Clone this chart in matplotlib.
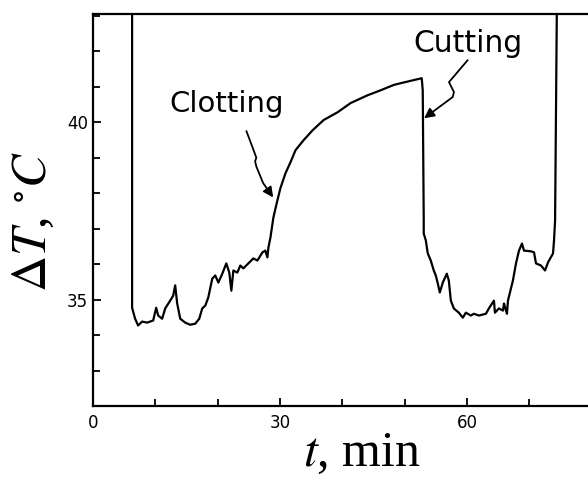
import matplotlib
matplotlib.use("Agg")
import matplotlib.pyplot as plt
from matplotlib.patches import FancyArrowPatch
from matplotlib.path import Path
from matplotlib.ticker import MultipleLocator

# 读取的曲线数据 (t, min ; ΔT, °C)
t_min = [6.27, 6.27, 6.27, 6.75, 7.23, 7.88, 8.68, 9.65, 10.13, 10.45, 11.09,
         11.58, 12.38, 12.86, 13.18, 13.50, 13.99, 14.79, 15.59, 16.40, 17.04,
         17.52, 18.01, 18.49, 19.13, 19.61, 20.10, 20.74, 21.38, 21.86, 22.19,
         22.51, 23.15, 23.63, 24.12, 24.92, 25.72, 26.37, 27.17, 27.65, 27.97,
         28.14, 28.46, 28.94, 29.58, 30.06, 30.87, 31.67, 32.48, 33.76, 35.21,
         36.98, 39.23, 41.32, 44.05, 46.14, 48.23, 49.36, 52.73, 52.89, 53.05,
         53.05, 53.38, 53.70, 54.18, 54.66, 54.98, 55.31, 55.63, 56.11, 56.75,
         57.07, 57.40, 57.88, 58.68, 59.32, 59.81, 60.61, 61.09, 61.90, 63.02,
         63.50, 64.31, 64.47, 65.11, 65.76, 65.92, 66.40, 66.56, 67.36, 67.85,
         68.33, 68.81, 69.13, 70.26, 70.74, 71.06, 71.86, 72.51, 72.99, 73.79,
         73.95, 74.12, 74.44]
dT = [44.0, 36.67, 34.77, 34.46, 34.27, 34.38, 34.35, 34.41, 34.77, 34.55, 34.46,
      34.75, 34.97, 35.11, 35.40, 34.89, 34.46, 34.35, 34.29, 34.32, 34.46,
      34.75, 34.83, 35.06, 35.59, 35.68, 35.48, 35.73, 36.02, 35.76, 35.25,
      35.82, 35.76, 35.96, 35.88, 36.02, 36.16, 36.10, 36.33, 36.38, 36.19,
      36.47, 36.75, 37.32, 37.80, 38.14, 38.56, 38.87, 39.21, 39.49, 39.77,
      40.06, 40.28, 40.54, 40.76, 40.90, 41.05, 41.10, 41.24, 40.90, 37.23,
      36.86, 36.67, 36.30, 36.10, 35.82, 35.68, 35.45, 35.20, 35.48, 35.73,
      35.54, 34.97, 34.75, 34.63, 34.49, 34.63, 34.55, 34.60, 34.55, 34.60,
      34.75, 34.97, 34.63, 34.75, 34.69, 34.89, 34.60, 34.97, 35.54, 36.02,
      36.38, 36.58, 36.38, 36.36, 36.33, 36.02, 35.96, 35.82, 36.05, 36.30,
      36.67, 37.23, 44.0]

x_ticks = [0, 30, 60]
y_ticks = [35, 40]

# 注释文字与箭头
clot_label = "Clotting"
clot_text_pos = (21.5, 40.5)
clot_arrow = [(24.6, 39.75), (25.4, 39.38), (26.2, 39.0), (26.0, 38.9),
              (26.2, 38.75), (27.3, 38.28), (28.9, 37.88)]
cut_label = "Cutting"
cut_text_pos = (60.2, 42.23)
cut_arrow = [(60.1, 41.75), (57.1, 41.13), (57.9, 40.85), (57.7, 40.71),
             (53.1, 40.11)]

plt.rcParams['mathtext.fontset'] = 'stix'

fig = plt.figure(figsize=(5.88, 4.8), dpi=100)
ax = fig.add_axes([0.1582, 0.1542, 0.8418, 0.8166])

ax.plot(t_min, dT, color='black', lw=1.6, solid_joinstyle='round')

ax.set_xlim(0, 79.4)
ax.set_ylim(32.0, 43.05)

ax.xaxis.set_minor_locator(MultipleLocator(10))
ax.yaxis.set_minor_locator(MultipleLocator(1))
ax.set_xticks(x_ticks)
ax.set_yticks(y_ticks)
ax.tick_params(which='both', direction='in', width=1.3, labelsize=12,
               top=False, right=False)
ax.tick_params(which='major', length=6)
ax.tick_params(which='minor', length=5)
ax.tick_params(axis='x', pad=5.5)

ax.spines['right'].set_visible(False)
for s in ['left', 'bottom', 'top']:
    ax.spines[s].set_linewidth(1.6)

ax.set_xlabel(r"$t$, min", family='Liberation Serif', fontsize=36)
ax.set_ylabel(r"$\Delta T$, $^{\circ}C$", family='Liberation Serif', fontsize=36)
ax.xaxis.set_label_coords(0.543, -0.063)
ax.yaxis.set_label_coords(-0.072, 0.469)

ax.text(*clot_text_pos, clot_label, fontsize=21, ha='center', va='center')
ax.text(*cut_text_pos, cut_label, fontsize=21.5, ha='center', va='center')

for pts in (clot_arrow, cut_arrow):
    codes = [Path.MOVETO] + [Path.LINETO] * (len(pts) - 1)
    arr = FancyArrowPatch(path=Path(pts, codes), arrowstyle='-|>,head_length=6,head_width=3',
                          color='black', lw=1.3, transform=ax.transData)
    ax.add_patch(arr)

fig.savefig("out.png", dpi=100)
